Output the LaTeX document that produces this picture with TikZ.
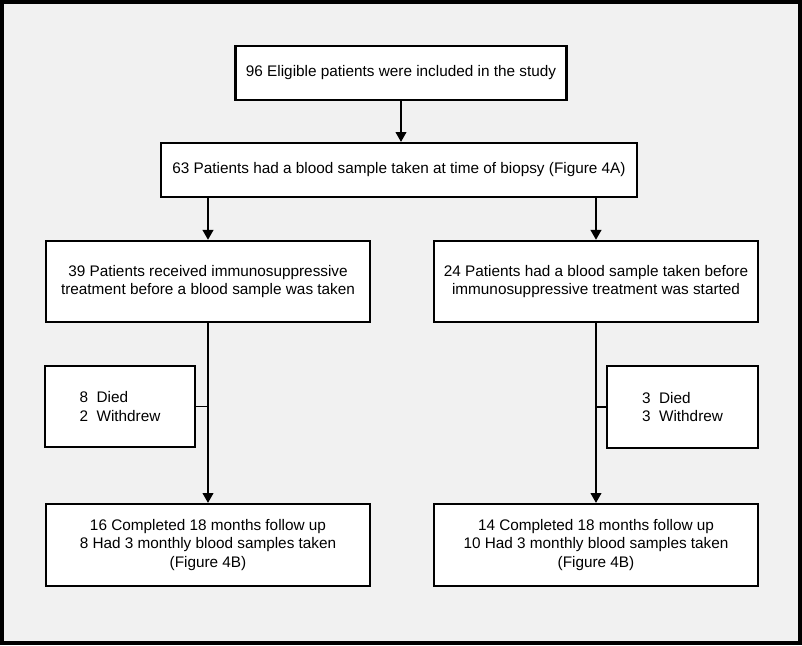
\documentclass[tikz,border=0pt]{standalone}
\usepackage{fontspec}
\setmainfont{Liberation Sans}
\usetikzlibrary{arrows.meta}
\definecolor{panelgray}{RGB}{241,241,241}

\begin{document}
\begin{tikzpicture}[x=0.025cm, y=-0.025cm,
        box/.style={draw, fill=white, line width=1.5pt, align=center, inner sep=0pt,
            font=\fontsize{10.9}{13}\selectfont},
        wide/.style={minimum width=8.1cm, minimum height=2.03cm},
        flow/.style={line width=1.4pt, -{Triangle[width=7.5pt,length=7pt]}},
        tie/.style={line width=1.4pt}]
     \useasboundingbox (0,0) rectangle (802,645);
     \draw[line width=2.2pt, fill=panelgray] (2,2) rectangle (800,643);

     \node[box, minimum width=8.275cm, minimum height=1.35cm] (elig) at (401,73)
        {96 Eligible patients were included in the study};
     \node[box, minimum width=11.9cm, minimum height=1.35cm] (biopsy) at (399,170)
        {63 Patients had a blood sample taken at time of biopsy (Figure 4A)};
     \node[box, wide] (treated) at (208,281.5)
        {39 Patients received immunosuppressive\\treatment before a blood sample was taken};
     \node[box, wide] (untreated) at (596,281.5)
        {24 Patients had a blood sample taken before\\immunosuppressive treatment was started};
     \node[box, align=left, minimum width=3.75cm, minimum height=2.03cm] (lossA) at (120,406.5)
        {8~~Died\\2~~Withdrew};
     \node[box, align=left, minimum width=3.78cm, minimum height=2.05cm] (lossB) at (682.5,407)
        {3~~Died\\3~~Withdrew};
     \node[box, wide, minimum height=2.05cm] (doneA) at (208,545)
        {16 Completed 18 months follow up\\8 Had 3 monthly blood samples taken\\(Figure 4B)};
     \node[box, wide, minimum height=2.05cm] (doneB) at (596,545)
        {14 Completed 18 months follow up\\10 Had 3 monthly blood samples taken\\(Figure 4B)};

     \draw[flow] (elig.south) -- (elig.south |- biopsy.north);
     \draw[flow] (biopsy.south -| treated.north) -- (treated.north);
     \draw[flow] (biopsy.south -| untreated.north) -- (untreated.north);
     \draw[flow] (treated.south) -- (treated.south |- doneA.north);
     \draw[flow] (untreated.south) -- (untreated.south |- doneB.north);
     \draw[tie] (lossA.east) -- (lossA.east -| treated.south);
     \draw[tie] (lossB.west) -- (lossB.west -| untreated.south);
\end{tikzpicture}
\end{document}
